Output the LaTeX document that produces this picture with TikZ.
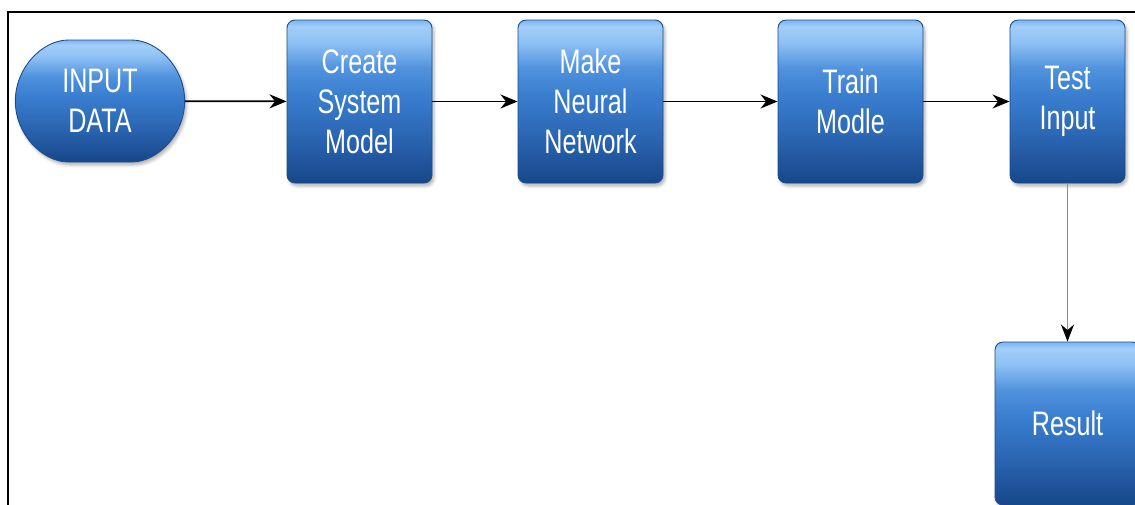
\documentclass[tikz,border=0pt]{standalone}
\usepackage{fontspec}
\usetikzlibrary{arrows.meta,shapes.misc,shadows.blur}
\newfontfamily\procfont[FakeStretch=0.74]{Liberation Sans}

% glossy blue fill: light band at the top, darkening towards the bottom
\definecolor{glossA}{HTML}{7DB4EE}
\definecolor{glossB}{HTML}{A2CEF9}
\definecolor{glossC}{HTML}{8DC0F4}
\definecolor{glossD}{HTML}{4F91DD}
\definecolor{glossE}{HTML}{3A7ED0}
\definecolor{glossF}{HTML}{2C67B4}
\definecolor{glossG}{HTML}{17478A}
\definecolor{boxline}{HTML}{1D4D8E}
\pgfdeclareverticalshading{glossblue}{100bp}{%
  color(0bp)=(glossG); color(25bp)=(glossG); color(40bp)=(glossF);
  color(52bp)=(glossE); color(60bp)=(glossD); color(68bp)=(glossC);
  color(73bp)=(glossB); color(75bp)=(glossA); color(100bp)=(glossA)}

\tikzset{
  procbox/.style={rectangle, rounded corners=8pt, shading=glossblue,
    draw=boxline, line width=0.9pt, text=white, align=center,
    font=\procfont\fontsize{34}{40}\selectfont,
    blur shadow={shadow xshift=2pt, shadow yshift=-3pt,
      shadow blur radius=3pt, shadow opacity=30}},
  terminal/.style={procbox, rounded rectangle},
  flow/.style={-{Stealth[length=17pt,width=14pt]}, line width=1.8pt, black},
  drop/.style={-{Stealth[length=17pt,width=13pt,black]}, line width=1.8pt, black!45}
}

\begin{document}
\begin{tikzpicture}[x=1pt,y=-1pt]
  \useasboundingbox (0,0) rectangle (1135,504);
  \clip (0,0) rectangle (1135,504);

  % open frame round the flow
  \draw[line width=2.6pt, black] (8,520) -- (8,12) -- (1150,12);

  \node[terminal, minimum width=176pt, minimum height=122pt] (input) at (100,101) {INPUT\\DATA};
  \node[procbox, minimum width=145pt, minimum height=163pt] (create) at (359.5,101.5) {Create\\System\\Model};
  \node[procbox, minimum width=145pt, minimum height=163pt] (neural) at (590.5,101.5) {Make\\Neural\\Network};
  \node[procbox, minimum width=145pt, minimum height=163pt] (train) at (850.5,101.5) {Train\\Modle};
  \node[procbox, minimum width=115pt, minimum height=163pt] (test) at (1067.5,101.5) {Test\\Input};
  \node[procbox, minimum width=145pt, minimum height=163pt] (result) at (1067.5,423.5) {Result};

  \draw[flow] (input) -- (create);
  \draw[flow] (create) -- (neural);
  \draw[flow] (neural) -- (train);
  \draw[flow] (train) -- (test);
  \draw[drop] (test) -- (result);
\end{tikzpicture}
\end{document}
